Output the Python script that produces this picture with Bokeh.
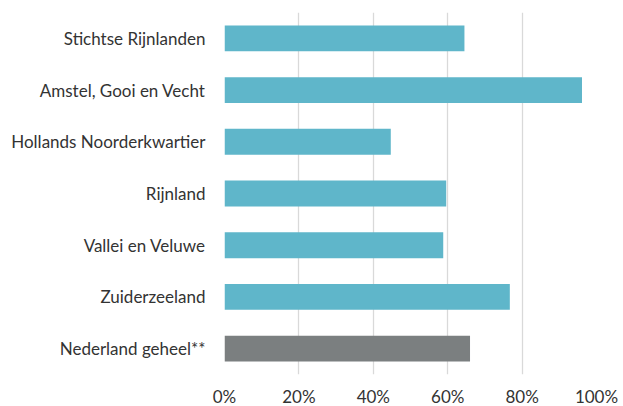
from bokeh.plotting import figure
from bokeh.models import ColumnDataSource, FactorRange, Range1d, FixedTicker, NumeralTickFormatter
from bokeh.embed import file_html
from bokeh.resources import INLINE

categories = ["Stichtse Rijnlanden", "Amstel, Gooi en Vecht", "Hollands Noorderkwartier",
              "Rijnland", "Vallei en Veluwe", "Zuiderzeeland", "Nederland geheel**"]
values = [0.645, 0.961, 0.447, 0.596, 0.588, 0.767, 0.660]
x_ticks = [0, 0.2, 0.4, 0.6, 0.8, 1.0]

TEAL = "#5fb6ca"
GREY = "#7b7f80"
colors = [GREY if c.startswith("Nederland") else TEAL for c in categories]

src = ColumnDataSource(dict(cat=categories, val=values, color=colors))

p = figure(y_range=FactorRange(*reversed(categories), range_padding=0),
           x_range=Range1d(0, 1),
           frame_width=372, frame_height=362,
           output_backend="svg", toolbar_location=None)
p.min_border_left = 224
p.min_border_right = 26
p.min_border_top = 12
p.min_border_bottom = 0
p.outline_line_color = None
p.background_fill_color = "white"
p.border_fill_color = "white"

p.hbar(y="cat", right="val", left=0, height=0.5, color="color", source=src, line_color=None)

p.ygrid.grid_line_color = None
p.xgrid.grid_line_color = "#d9d9d9"
p.xgrid.grid_line_width = 1.3
p.xaxis.ticker = FixedTicker(ticks=x_ticks)
p.xaxis.formatter = NumeralTickFormatter(format="0%")

for ax in (p.xaxis[0], p.yaxis[0]):
    ax.axis_line_color = None
    ax.major_tick_line_color = None
    ax.minor_tick_line_color = None
    ax.major_label_text_font = "Lato"
    ax.major_label_text_font_size = "17px"
    ax.major_label_text_color = "#333333"
p.xaxis.major_label_standoff = 5
p.yaxis.major_label_standoff = 13

open("out.html", "w").write(file_html(p, INLINE))
